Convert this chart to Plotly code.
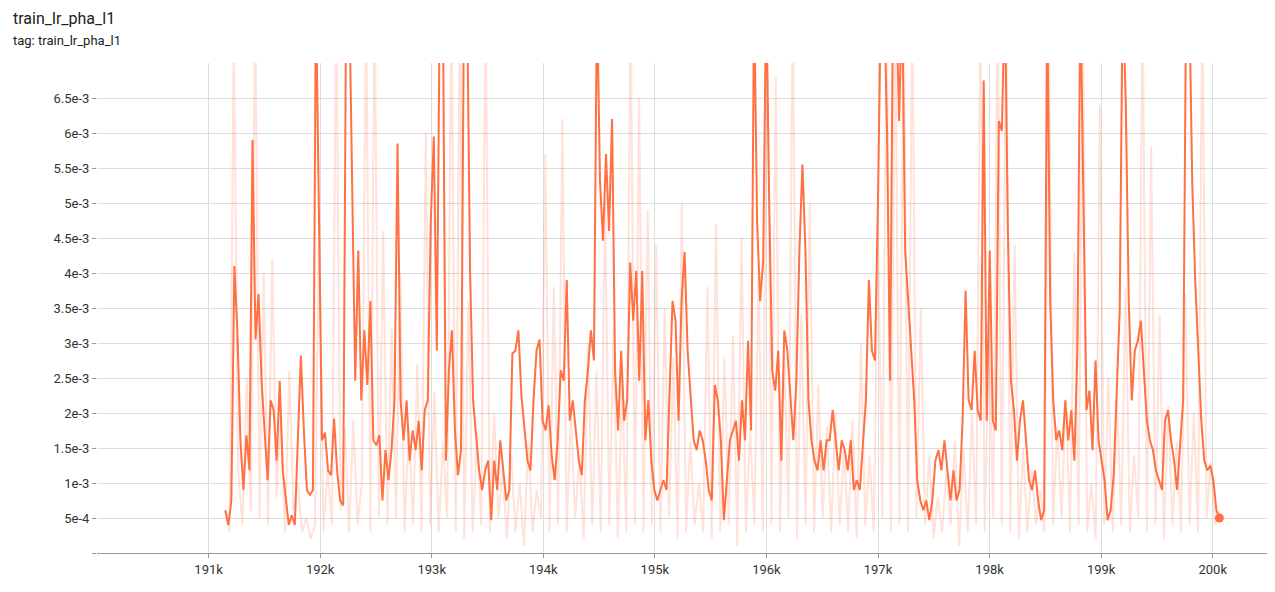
import numpy as np
import plotly.graph_objects as go

TITLE = "train_lr_pha_l1"
LINE_COLOR = "#ff7043"

# values in units of 1e-3 (8.0 = above the visible range)
smoothed = [
    0.61, 0.40, 0.75, 4.10, 3.18, 1.61, 0.90, 1.68, 1.18, 5.90, 3.05, 3.70, 2.46, 1.75, 1.04, 2.18,
    2.04, 1.32, 2.46, 1.18, 0.75, 0.40, 0.54, 0.40, 1.61, 2.82, 1.75, 0.90, 0.83, 0.90, 8.0, 5.03,
    1.61, 1.72, 1.18, 1.11, 1.92, 1.18, 0.75, 0.68, 8.0, 8.0, 5.31, 2.46, 4.32, 2.18, 3.18, 2.40,
    3.60, 1.61, 1.54, 1.68, 0.75, 1.47, 1.04, 1.47, 2.18, 5.85, 2.18, 1.61, 2.18, 1.32, 1.75, 1.47,
    1.89, 1.18, 2.04, 2.18, 4.74, 5.95, 2.89, 8.0, 8.0, 1.32, 2.61, 3.18, 1.75, 1.11, 1.47, 8.0,
    8.0, 4.03, 2.18, 1.61, 1.18, 0.90, 1.18, 1.32, 0.47, 1.32, 0.90, 1.61, 1.18, 0.75, 0.90, 2.85,
    2.89, 3.18, 2.25, 1.75, 1.32, 1.18, 2.18, 2.89, 3.05, 1.89, 1.75, 2.11, 1.40, 1.04, 1.61, 2.61,
    2.46, 3.90, 1.89, 2.18, 1.75, 1.32, 1.11, 2.18, 2.61, 3.18, 2.75, 8.0, 5.31, 4.46, 5.70, 4.60,
    6.20, 2.61, 1.75, 2.89, 1.89, 2.18, 4.15, 3.32, 4.03, 2.46, 4.03, 1.61, 2.18, 1.32, 0.90, 0.75,
    0.90, 1.04, 0.90, 2.18, 3.60, 3.32, 1.89, 3.60, 4.30, 2.89, 2.18, 1.61, 1.47, 1.75, 1.61, 1.32,
    0.90, 0.75, 2.40, 2.18, 1.61, 0.47, 1.04, 1.61, 1.75, 1.89, 1.32, 2.18, 1.61, 3.03, 1.75, 8.0,
    4.74, 3.60, 4.17, 8.0, 5.03, 2.61, 2.32, 2.89, 1.32, 3.18, 2.89, 2.18, 1.61, 2.46, 4.32, 5.55,
    4.32, 2.18, 1.61, 1.32, 1.18, 1.61, 1.18, 1.61, 1.61, 2.04, 1.61, 1.18, 1.61, 1.47, 1.18, 1.61,
    0.90, 1.04, 0.90, 1.61, 2.18, 3.90, 2.89, 2.75, 5.03, 8.0, 8.0, 6.03, 2.46, 8.0, 8.0, 6.17,
    8.0, 4.32, 3.60, 2.75, 2.18, 1.04, 0.75, 0.61, 0.75, 0.47, 0.75, 1.32, 1.47, 1.18, 1.61, 1.18,
    0.75, 1.18, 0.75, 0.90, 1.89, 3.75, 2.18, 2.04, 2.89, 2.04, 1.89, 6.75, 1.89, 4.32, 1.89, 1.75,
    6.17, 6.03, 8.0, 4.60, 2.46, 2.04, 1.32, 1.89, 2.18, 1.61, 1.04, 0.90, 1.18, 0.75, 0.47, 0.61,
    8.0, 3.60, 2.18, 1.61, 1.75, 1.47, 2.18, 1.61, 2.04, 1.32, 2.89, 8.0, 5.03, 2.04, 2.32, 1.47,
    2.75, 1.61, 1.32, 1.04, 0.47, 0.61, 1.11, 2.18, 3.46, 8.0, 6.45, 3.60, 2.18, 2.89, 3.03, 3.32,
    2.61, 1.89, 1.61, 1.47, 1.18, 1.04, 0.90, 1.89, 2.04, 1.61, 1.32, 0.90, 1.47, 2.18, 8.0, 8.0,
    5.31, 3.89, 2.89, 1.89, 1.32, 1.18, 1.25, 1.04, 0.61, 0.50,
]

raw = [
    0.6, 0.3, 7.5, 1.2, 0.4, 2.5, 0.6, 8.0, 0.5, 4.0, 0.4, 4.2, 0.8, 2.0, 0.3, 2.6, 0.6, 1.0, 0.3, 0.5,
    0.2, 0.4, 4.7, 0.3, 1.2, 0.4, 8.0, 0.6, 1.8, 0.3, 1.9, 0.4, 1.0, 8.0, 0.3, 8.0, 0.5, 4.6, 0.4, 3.2,
    0.5, 4.0, 0.3, 1.8, 0.4, 2.7, 0.3, 6.0, 0.4, 2.3, 0.3, 1.6, 0.5, 8.0, 0.3, 8.0, 0.2, 3.6, 0.3, 1.7,
    0.4, 8.0, 0.3, 2.0, 0.5, 1.2, 0.2, 1.4, 0.3, 1.0, 0.1, 1.6, 0.3, 0.9, 0.5, 5.7, 0.3, 3.8, 0.4, 6.2,
    0.3, 2.0, 0.5, 1.4, 0.2, 3.0, 0.4, 2.6, 0.3, 5.1, 0.4, 3.2, 0.2, 2.4, 0.3, 8.0, 0.4, 6.5, 0.3, 4.9,
    0.4, 4.4, 0.3, 3.5, 0.5, 2.8, 0.2, 5.0, 0.3, 1.6, 0.4, 1.0, 0.3, 3.8, 0.2, 4.7, 0.3, 2.8, 0.4, 3.1,
    0.1, 4.5, 0.3, 1.8, 0.4, 4.0, 0.3, 8.0, 0.4, 6.8, 0.3, 2.9, 0.5, 8.0, 0.2, 3.4, 0.4, 5.0, 0.3, 2.4,
    0.5, 1.8, 0.3, 2.0, 0.4, 1.5, 0.3, 1.9, 0.2, 3.0, 0.4, 1.4, 0.3, 4.6, 0.5, 8.0, 0.3, 8.0, 0.4, 8.0,
    0.3, 8.0, 0.5, 3.5, 0.4, 1.4, 0.2, 0.8, 0.3, 1.2, 0.4, 1.6, 0.1, 1.5, 0.3, 2.0, 0.4, 8.0, 0.3, 3.2,
    0.5, 8.0, 0.4, 8.0, 0.3, 4.4, 0.2, 1.5, 0.3, 1.2, 0.4, 0.9, 0.3, 8.0, 0.4, 1.8, 0.5, 2.2, 0.3, 4.3,
    0.4, 8.0, 0.3, 1.0, 0.2, 6.4, 0.4, 2.5, 0.3, 2.2, 0.4, 3.8, 0.3, 1.4, 0.5, 8.0, 0.3, 5.8, 0.4, 3.4,
    0.2, 2.1, 0.4, 1.6, 0.3, 3.7, 0.4, 2.0, 0.3, 8.0, 0.5, 1.3, 0.4, 0.6,
]

smooth_steps = np.linspace(191150, 200060, len(smoothed))
raw_steps = np.linspace(191150, 200060, len(raw))

y_ticks = [i * 0.5e-3 for i in range(14)]
y_labels = [""] + ["5e-4"] + [f"{v:g}e-3" for v in np.arange(1, 6.6, 0.5)]
x_ticks = list(range(191000, 201000, 1000))
x_labels = [f"{int(t / 1000)}k" for t in x_ticks]

fig = go.Figure()
fig.add_trace(go.Scatter(
    x=raw_steps, y=np.array(raw) * 1e-3, mode="lines",
    line=dict(color="rgba(255,112,67,0.2)", width=2), hoverinfo="skip",
))
fig.add_trace(go.Scatter(
    x=smooth_steps, y=np.array(smoothed) * 1e-3, mode="lines",
    line=dict(color=LINE_COLOR, width=2),
))
fig.add_trace(go.Scatter(
    x=[smooth_steps[-1]], y=[smoothed[-1] * 1e-3], mode="markers",
    marker=dict(color=LINE_COLOR, size=9),
))

tick_style = dict(gridcolor="#ddd", zeroline=False, ticks="outside", tickcolor="#999",
                  ticklen=4, tickfont=dict(size=13, color="#333"), automargin=False)

# page body adds an 8px offset, so margins are 8px smaller than the target
L, T, B = 89, 55, 47
plot_w, plot_h = 1275 - L, 592 - T - B

fig.update_layout(
    width=1275, height=592, showlegend=False,
    paper_bgcolor="white", plot_bgcolor="white",
    font=dict(family="Roboto", color="#212121"),
    margin=dict(l=L, r=0, t=T, b=B),
    xaxis=dict(range=[190000, 200630], tickvals=x_ticks, ticktext=x_labels,
               showline=True, linecolor="#999", **tick_style),
    yaxis=dict(range=[0, 7e-3], tickvals=y_ticks, ticktext=y_labels, **tick_style),
    annotations=[
        dict(text=TITLE, x=-(L - 3) / plot_w, y=1 + (T + 1) / plot_h, xref="paper", yref="paper",
             showarrow=False, xanchor="left", yanchor="top", font=dict(size=16)),
        dict(text=f"tag: {TITLE}", x=-(L - 3) / plot_w, y=1 + (T - 23) / plot_h,
             xref="paper", yref="paper", showarrow=False, xanchor="left", yanchor="top",
             font=dict(size=13)),
    ],
)

fig.write_html("out.html")
